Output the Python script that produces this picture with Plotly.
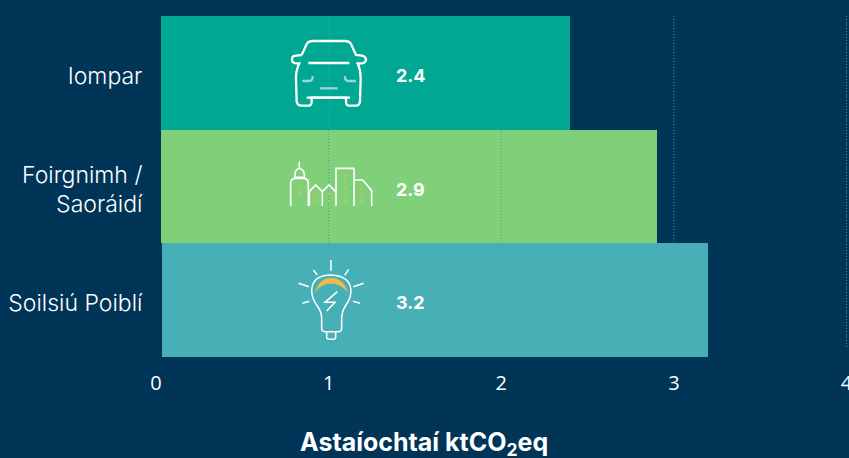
import plotly.graph_objects as go

categories = ["Iompar", "Foirgnimh /<br>Saoráidí", "Soilsiú Poiblí"]
values = [2.4, 2.9, 3.2]
bar_colors = ["#00A792", "#7FD078", "#47B0B6"]
x_ticks = [0, 1, 2, 3, 4]
x_title = "<b>Astaíochtaí ktCO<sub>2</sub>eq</b>"

W, H = 849, 458
BG = "#003557"
L, R, T, B = 156, 848, 16, 357
X_MAX = 4.0087
FONT = "Inter"
WHITE = "#FFFFFF"
YELLOW = "#F3BA47"
LIGHT = "#9AD5E6"
GRID = "#3FA3B0"


def px(x):
    return (x - L) / (R - L)


def py(y):
    return (B - y) / (B - T)


def path_from_zoom(d, ox, oy):
    """Icon artwork is noted in 3x crop coordinates; convert it to paper space."""
    out, is_x = [], True
    for tok in d.split():
        if tok.isalpha():
            out.append(tok)
            is_x = True
        else:
            v = float(tok)
            if is_x:
                out.append(f"{px(ox + v / 3):.5f}")
            else:
                out.append(f"{py(oy + v / 3):.5f}")
            is_x = not is_x
    return " ".join(out)


shapes = []


def icon(d, ox, oy, color=WHITE, width=2.0, fill=None):
    shapes.append(dict(
        type="path", xref="paper", yref="paper", layer="above",
        path=path_from_zoom(d, ox, oy),
        line=dict(color=color, width=width),
        fillcolor=fill if fill else "rgba(0,0,0,0)",
    ))


# Left gutter: bars visually begin just right of the zero position
shapes.append(dict(type="rect", xref="paper", yref="paper", layer="above",
                   x0=px(150), x1=px(161), y0=py(16), y1=py(243),
                   fillcolor=BG, line=dict(width=0)))
shapes.append(dict(type="rect", xref="paper", yref="paper", layer="above",
                   x0=px(150), x1=px(162), y0=py(243), y1=py(357.5),
                   fillcolor=BG, line=dict(width=0)))

# Dotted grid: drawn over the upper bars but stopping at the top of the lowest bar
for t in x_ticks[1:]:
    y_end = py(243) if t <= values[-1] else py(348)
    shapes.append(dict(type="line", xref="x", yref="paper", layer="above",
                       x0=t, x1=t, y0=py(16), y1=y_end,
                       line=dict(color=GRID, width=1, dash="1px,2px")))

# Car
cx, cy = 270, 20
icon("M 95 105 L 110 72 Q 115 63 128 63 L 225 63 Q 238 63 243 72 L 258 105 L 276 107 Q 288 110 288 120 "
     "Q 285 130 275 130 L 263 130 Q 272 150 272 175 L 270 245 Q 268 257 258 257 L 238 257 Q 228 257 228 245 "
     "L 228 233 L 125 233 L 125 245 Q 125 257 115 257 L 95 257 Q 82 257 80 245 L 78 175 Q 78 150 88 130 "
     "L 78 130 Q 66 130 66 118 Q 66 107 78 107 L 95 105", cx, cy, WHITE, 2.3)
icon("M 115 129 L 238 129", cx, cy, WHITE, 2.3)
icon("M 110 233 L 240 233", cx, cy, WHITE, 2.3)
icon("M 97 183 L 118 183 Q 128 183 128 168", cx, cy, LIGHT, 2.3)
icon("M 258 183 L 235 183 Q 224 183 225 168", cx, cy, LIGHT, 2.3)
icon("M 150 205 L 203 205", cx, cy, LIGHT, 2.3)

# City
cx, cy = 270, 140
for d in [
    "M 62 198 L 62 130 Q 62 115 78 115 L 100 115 Q 115 115 115 130 L 115 198",
    "M 75 112 Q 72 90 88 85 Q 105 90 103 112 L 75 112",
    "M 88 85 L 88 65",
    "M 118 155 L 137 135 L 157 155 L 177 135 L 197 155",
    "M 118 155 L 118 198",
    "M 157 155 L 157 198",
    "M 198 198 L 198 85 L 252 85 L 252 198",
    "M 252 120 L 278 120 L 305 152 L 305 198",
]:
    icon(d, cx, cy, WHITE, 1.6)
for dx, dy in [(88, 138), (88, 158), (135, 163), (135, 183), (177, 163), (177, 183),
               (225, 107), (225, 126), (225, 145), (225, 165), (225, 184),
               (275, 146), (275, 165), (275, 184)]:
    icon(f"M {dx - 2.5} {dy - 2.5} L {dx + 2.5} {dy - 2.5} L {dx + 2.5} {dy + 2.5} L {dx - 2.5} {dy + 2.5} Z",
         cx, cy, YELLOW, 0.3, YELLOW)

# Bulb
cx, cy = 270, 250
icon("M 136 125 Q 150 85 183 85 Q 220 85 232 125 Q 210 100 183 100 Q 155 100 136 125 Z",
     cx, cy, YELLOW, 0.5, YELLOW)
icon("M 155 235 L 155 205 Q 155 185 140 165 Q 125 145 125 120 Q 128 75 183 75 Q 240 78 243 120 "
     "Q 243 145 228 165 Q 215 185 215 205 L 215 235 Q 215 245 205 245 L 165 245 Q 155 245 155 235 Z",
     cx, cy, WHITE, 1.5)
icon("M 170 247 L 170 262 Q 170 268 178 268 L 190 268 Q 197 268 197 262 L 197 247", cx, cy, WHITE, 1.5)
for d in ["M 183 30 L 183 62", "M 130 60 L 142 75", "M 236 58 L 224 76", "M 86 100 L 117 110",
          "M 281 100 L 250 110", "M 97 160 L 118 154", "M 270 160 L 249 154",
          "M 202 125 L 165 157 L 195 157 L 170 183"]:
    icon(d, cx, cy, WHITE, 1.5)

fig = go.Figure(go.Bar(
    y=categories, x=values, orientation="h", width=1,
    marker=dict(color=bar_colors, line=dict(width=0)),
    hoverinfo="skip",
))

annotations = [
    dict(xref="paper", yref="y", x=px(393.5), y=c, yshift=-2.5, text=f"<b>{v}</b>", showarrow=False,
         xanchor="left", yanchor="middle",
         font=dict(family=FONT, size=18, color=WHITE))
    for c, v in zip(categories, values)
]
annotations.append(dict(
    xref="paper", yref="paper", x=px(424), y=py(443.5), text=x_title, showarrow=False,
    xanchor="center", yanchor="middle",
    font=dict(family=FONT, size=25, color=WHITE),
))

fig.update_layout(
    width=W, height=H,
    autosize=False,
    paper_bgcolor=BG, plot_bgcolor=BG,
    margin=dict(l=L, r=W - R, t=T, b=H - B, pad=0),
    showlegend=False,
    bargap=0,
    shapes=shapes,
    annotations=annotations,
    font=dict(family=FONT, color=WHITE),
    xaxis=dict(
        range=[0, X_MAX], tickvals=x_ticks, ticktext=[str(t) for t in x_ticks],
        automargin=False,
        showgrid=False, zeroline=False, showline=False,
        ticks="outside", ticklen=8, tickcolor="rgba(0,0,0,0)",
        ticklabeloverflow="allow",
        tickfont=dict(family="Open Sans", size=20, color=WHITE),
    ),
    yaxis=dict(
        categoryorder="array", categoryarray=categories,
        autorange=False, range=[2.5, -0.5],
        automargin=False,
        showgrid=False, zeroline=False, showline=False,
        ticks="outside", ticklen=8, tickcolor="rgba(0,0,0,0)",
        ticklabelshift=-3,
        tickfont=dict(family=FONT, size=23, color=WHITE, weight=300),
    ),
)

fig.write_html(
    "out.html",
    config={"displayModeBar": False},
    post_script=f"document.body.style.margin='0';document.body.style.background='{BG}';"
                "document.documentElement.style.overflow='hidden';",
)
